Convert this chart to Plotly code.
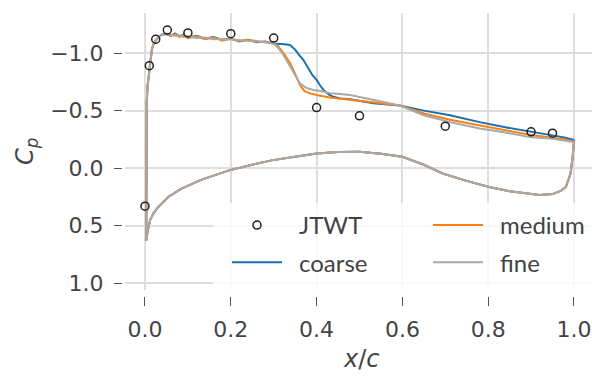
import plotly.graph_objects as go

# ---------------- data ----------------
# JTWT experiment
jtwt_x = [0.0, 0.010, 0.025, 0.052, 0.10, 0.20, 0.30, 0.40, 0.50, 0.70, 0.90, 0.95]
jtwt_cp = [0.33, -0.89, -1.12, -1.20, -1.175, -1.168, -1.13, -0.527, -0.455, -0.365, -0.316, -0.304]

# leading-edge region (shared by all grids)
le_x = [0.003, 0.003, 0.0032, 0.0035, 0.004, 0.006, 0.009, 0.013, 0.016, 0.019, 0.025, 0.032, 0.039]
le_cp = [0.63, 0.30, 0.00, -0.30, -0.57, -0.71, -0.83, -0.94, -1.03, -1.07, -1.11, -1.14, -1.16]

# upper surface (after leading edge)
coarse_up_x = [0.05, 0.06, 0.07, 0.08, 0.09, 0.10, 0.12, 0.14, 0.16, 0.18, 0.20, 0.22, 0.24, 0.26, 0.28,
               0.30, 0.32, 0.338, 0.35, 0.36, 0.369, 0.38, 0.39, 0.40, 0.408, 0.416, 0.428, 0.439, 0.455,
               0.478, 0.493, 0.532, 0.594, 0.65, 0.711, 0.78, 0.84, 0.897, 0.95, 0.98, 1.0]
coarse_up_cp = [-1.165, -1.15, -1.17, -1.145, -1.16, -1.135, -1.15, -1.125, -1.14, -1.115, -1.125, -1.10, -1.115,
                -1.095, -1.10, -1.08, -1.078, -1.07, -1.03, -0.98, -0.942, -0.87, -0.81, -0.767, -0.72, -0.68,
                -0.64, -0.62, -0.605, -0.598, -0.593, -0.565, -0.545, -0.50, -0.46, -0.40, -0.355, -0.316,
                -0.285, -0.265, -0.245]

medium_up_x = [0.05, 0.06, 0.07, 0.08, 0.09, 0.10, 0.12, 0.14, 0.16, 0.18, 0.20, 0.22, 0.24, 0.26, 0.28,
               0.30, 0.311, 0.325, 0.338, 0.35, 0.361, 0.372, 0.385, 0.40, 0.431, 0.455, 0.478, 0.50, 0.55,
               0.594, 0.65, 0.711, 0.78, 0.84, 0.897, 0.95, 0.98, 1.0]
medium_up_cp = [-1.17, -1.15, -1.165, -1.14, -1.155, -1.13, -1.145, -1.12, -1.135, -1.11, -1.125, -1.105, -1.115,
                -1.10, -1.095, -1.085, -1.058, -0.99, -0.913, -0.82, -0.724, -0.67, -0.65, -0.635, -0.615,
                -0.60, -0.593, -0.585, -0.565, -0.545, -0.475, -0.42, -0.37, -0.33, -0.29, -0.265, -0.25,
                -0.232]

fine_up_x = [0.05, 0.06, 0.07, 0.08, 0.09, 0.10, 0.12, 0.14, 0.16, 0.18, 0.20, 0.22, 0.24, 0.26, 0.28,
             0.30, 0.307, 0.32, 0.33, 0.338, 0.35, 0.361, 0.375, 0.392, 0.41, 0.431, 0.455, 0.478, 0.50, 0.55,
             0.594, 0.65, 0.711, 0.78, 0.84, 0.897, 0.95, 0.98, 1.0]
fine_up_cp = [-1.165, -1.16, -1.15, -1.155, -1.14, -1.145, -1.13, -1.135, -1.12, -1.125, -1.115, -1.115, -1.105,
              -1.10, -1.095, -1.085, -1.06, -1.0, -0.93, -0.884, -0.81, -0.738, -0.70, -0.68, -0.67, -0.651,
              -0.645, -0.636, -0.62, -0.58, -0.545, -0.46, -0.40, -0.345, -0.31, -0.27, -0.255, -0.24, -0.228]

# lower surface (shared)
low_x = [0.003, 0.006, 0.012, 0.02, 0.031, 0.054, 0.085, 0.132, 0.198, 0.25, 0.298, 0.35, 0.40, 0.45, 0.50,
         0.55, 0.60, 0.65, 0.694, 0.75, 0.802, 0.85, 0.888, 0.92, 0.95, 0.97, 0.981, 0.992, 0.997]
low_cp = [0.63, 0.55, 0.45, 0.39, 0.337, 0.25, 0.177, 0.099, 0.017, -0.03, -0.07, -0.10, -0.128, -0.14, -0.142,
          -0.125, -0.099, -0.03, 0.046, 0.11, 0.163, 0.20, 0.22, 0.232, 0.225, 0.195, 0.163, 0.046, -0.10]

series_names = ["coarse", "medium", "fine"]
series_colors = ["#1b6fab", "#ff7f0e", "#a8a8a8"]
x_ticks = [0.0, 0.2, 0.4, 0.6, 0.8, 1.0]
x_ticklabels = ["0.0", "0.2", "0.4", "0.6", "0.8", "1.0"]
y_ticks = [-1.0, -0.5, 0.0, 0.5, 1.0]
y_ticklabels = ["\u22121.0", "\u22120.5", "0.0", "0.5", "1.0"]

# ---------------- figure ----------------
W, H = 592, 376
ML, MR, MT, MB = 90, 0, 13, 80
PW, PH = W - ML - MR, H - MT - MB


def px2paper_x(px):
    return (px - ML) / PW


def px2paper_y(py):
    return (H - MB - py) / PH


def outline(up_x, up_cp):
    xs = list(reversed(up_x)) + list(reversed(le_x)) + low_x[1:] + [up_x[-1]]
    ys = list(reversed(up_cp)) + list(reversed(le_cp)) + low_cp[1:] + [up_cp[-1]]
    return xs, ys


SP = "\u2002"
fig = go.Figure()
uppers = [(coarse_up_x, coarse_up_cp), (medium_up_x, medium_up_cp), (fine_up_x, fine_up_cp)]
legend_of = {"coarse": "legend", "medium": "legend2", "fine": "legend2"}
rank_of = {"coarse": 2, "medium": 1, "fine": 2}
for name, color, (ux, ucp) in zip(series_names, series_colors, uppers):
    xs, ys = outline(ux, ucp)
    fig.add_trace(go.Scatter(x=xs, y=ys, mode="lines", name=SP + name,
                             line=dict(color=color, width=2),
                             legend=legend_of[name], legendrank=rank_of[name], legendgroup=name))

fig.add_trace(go.Scatter(x=jtwt_x, y=jtwt_cp, mode="markers", name=SP + "JTWT",
                         marker=dict(symbol="circle-open", size=8, color="#222222",
                                     line=dict(width=1.5, color="#222222")),
                         legend="legend", legendrank=1, legendgroup="JTWT"))

tick_font = dict(family="DejaVu Sans", size=22, color="#444444")
leg_font = dict(family="Lato", size=24, color="#444444")

fig.update_layout(
    width=W, height=H,
    margin=dict(l=ML, r=MR, t=MT, b=MB, autoexpand=False),
    paper_bgcolor="white", plot_bgcolor="white",
    xaxis=dict(domain=[px2paper_x(125), 1.0], range=[-0.0466, 1.042],
               anchor="free", position=0.0,
               tickvals=x_ticks, ticktext=x_ticklabels,
               showgrid=True, gridcolor="#dedede", gridwidth=1.6,
               zeroline=False, showline=False,
               ticks="outside", ticklen=9, tickwidth=1.2, tickcolor="#555555",
               tickfont=tick_font, ticklabelstandoff=5),
    yaxis=dict(domain=[px2paper_y(290), 1.0], range=[1.058, -1.348],
               anchor="free", position=px2paper_x(122),
               tickvals=y_ticks, ticktext=y_ticklabels,
               showgrid=True, gridcolor="#dedede", gridwidth=1.6,
               zeroline=False, showline=False,
               ticks="outside", ticklen=8, tickwidth=1.2, tickcolor="#555555",
               tickfont=tick_font, ticklabelstandoff=6),
    legend=dict(x=px2paper_x(227), y=px2paper_y(203), xanchor="left", yanchor="top",
                bgcolor="rgba(0,0,0,0)", borderwidth=0, itemwidth=50,
                font=leg_font, traceorder="grouped", tracegroupgap=3),
    legend2=dict(x=px2paper_x(428), y=px2paper_y(203), xanchor="left", yanchor="top",
                 bgcolor="rgba(0,0,0,0)", borderwidth=0, itemwidth=50,
                 font=leg_font, traceorder="grouped", tracegroupgap=3),
    shapes=[dict(type="rect", xref="paper", yref="paper",
                 x0=px2paper_x(213), x1=1.0, y0=px2paper_y(290), y1=px2paper_y(203),
                 fillcolor="rgba(255,255,255,0.8)", line=dict(width=0), layer="above")],
    annotations=[
        dict(text="<i>x</i>/<i>c</i>", xref="paper", yref="paper",
             x=px2paper_x(361), y=px2paper_y(359), xanchor="center", yanchor="middle",
             showarrow=False, font=dict(family="DejaVu Sans", size=24, color="#444444")),
        dict(text="<i>C</i><sub><i>p</i></sub>", xref="paper", yref="paper",
             x=px2paper_x(26), y=px2paper_y(152), xanchor="center", yanchor="middle",
             textangle=-90, showarrow=False, font=dict(family="DejaVu Sans", size=24, color="#444444")),
    ],
    showlegend=True,
)

fig.write_html("out.html", config={"displayModeBar": False},
               post_script="document.body.style.margin='0px';document.body.style.overflow='hidden';")
